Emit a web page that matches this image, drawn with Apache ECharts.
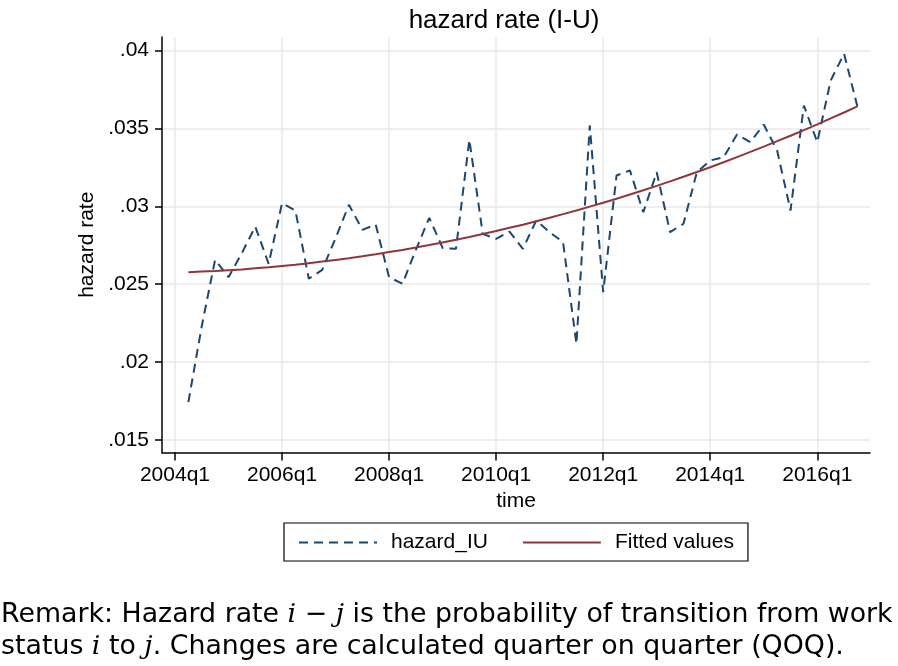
<!DOCTYPE html>
<html><head><meta charset="utf-8">
<script src="https://cdn.jsdelivr.net/npm/echarts@6/dist/echarts.min.js"></script>
<style>html,body{margin:0;padding:0;background:#fff}#c{width:898px;height:666px}</style>
</head><body><div id="c"></div>
<script>
// quarters of the observations
const quarters = [
  '2004q2','2004q3','2004q4','2005q1','2005q2','2005q3','2005q4',
  '2006q1','2006q2','2006q3','2006q4','2007q1','2007q2','2007q3','2007q4',
  '2008q1','2008q2','2008q3','2008q4','2009q1','2009q2','2009q3','2009q4',
  '2010q1','2010q2','2010q3','2010q4','2011q1','2011q2','2011q3','2011q4',
  '2012q1','2012q2','2012q3','2012q4','2013q1','2013q2','2013q3','2013q4',
  '2014q1','2014q2','2014q3','2014q4','2015q1','2015q2','2015q3','2015q4',
  '2016q1','2016q2','2016q3','2016q4'
];
const hazardIU = [
  0.01743,0.0223,0.02657,0.02545,0.0270,0.0287,0.02631,
  0.0302,0.02973,0.02535,0.02592,0.02795,0.0301,0.02849,0.02883,
  0.02545,0.02503,0.0272,0.02926,0.02733,0.02727,0.03427,0.02823,
  0.02791,0.02838,0.02727,0.02909,0.02834,0.0277,0.02117,0.03519,
  0.02449,0.03198,0.0323,0.02962,0.03219,0.02834,0.02888,0.03219,
  0.03294,0.03315,0.03461,0.03412,0.03525,0.03358,0.02973,0.03647,
  0.03412,0.03807,0.03979,0.03641
];
const fittedValues = [
  0.02577,0.02581,0.02585,0.02590,0.02595,0.02602,0.02609,
  0.02617,0.02625,0.02635,0.02645,0.02656,0.02667,0.02679,0.02692,
  0.02706,0.02720,0.02735,0.02751,0.02768,0.02785,0.02803,0.02822,
  0.02841,0.02862,0.02882,0.02904,0.02926,0.02950,0.02973,0.02998,
  0.03023,0.03049,0.03076,0.03103,0.03131,0.03160,0.03190,0.03220,
  0.03251,0.03283,0.03316,0.03349,0.03383,0.03418,0.03453,0.03489,
  0.03526,0.03564,0.03602,0.03641
];
const xTickLabels = ['2004q1','2006q1','2008q1','2010q1','2012q1','2014q1','2016q1'];
const yTickValues = [0.015,0.02,0.025,0.03,0.035,0.04];

function qIndex(s){ const y = +s.slice(0,4), q = +s.slice(5); return (y-2004)*4 + (q-1); }
const xTickValues = xTickLabels.map(qIndex);
const labelOf = {}; xTickLabels.forEach(l => { labelOf[qIndex(l)] = l; });

const FONT = 'Liberation Sans';
const chart = echarts.init(document.getElementById('c'), null, {renderer:'canvas'});
chart.setOption({
  backgroundColor:'#fff',
  animation:false,
  title:{
    text:'hazard rate (I-U)', left:499, top:3, textAlign:'center',
    textStyle:{fontFamily:FONT, fontSize:26, fontWeight:'normal', color:'#000'}
  },
  grid:{left:162, right:28, top:37, bottom:213.5, containLabel:false},
  xAxis:{
    type:'value', min:-0.97, max:51.94,
    name:'time', nameLocation:'middle', nameGap:36,
    nameTextStyle:{fontFamily:FONT, fontSize:21, color:'#000'},
    axisLine:{show:true, onZero:false, lineStyle:{color:'#000', width:1.5}},
    axisTick:{show:true, customValues:xTickValues, length:8, lineStyle:{color:'#000', width:1.5}},
    axisLabel:{customValues:xTickValues, margin:12, fontFamily:FONT, fontSize:21, color:'#000',
      formatter:v => labelOf[v] || ''},
    splitLine:{show:true, lineStyle:{color:'#e8e8e8', width:1.5}}
  },
  yAxis:{
    type:'value', min:0.014198, max:0.040867,
    name:'hazard rate', nameLocation:'middle', nameGap:64, nameRotate:90,
    nameTextStyle:{fontFamily:FONT, fontSize:21, color:'#000'},
    axisLine:{show:true, onZero:false, lineStyle:{color:'#000', width:1.5}},
    axisTick:{show:true, customValues:yTickValues, length:7, lineStyle:{color:'#000', width:1.5}},
    axisLabel:{customValues:yTickValues, margin:13, fontFamily:FONT, fontSize:21, color:'#000',
      formatter:v => String(+v.toFixed(3)).replace(/^0\./,'.')},
    splitLine:{show:true, lineStyle:{color:'#e8e8e8', width:1.5}}
  },
  legend:{
    left:284, top:523, itemWidth:78, itemHeight:14, itemGap:34,
    padding:[9,14,8,14], borderColor:'#000', borderWidth:1.2,
    itemStyle:{opacity:0},
    textStyle:{fontFamily:FONT, fontSize:21, color:'#000', padding:[0,0,0,9]},
    data:['hazard_IU','Fitted values']
  },
  series:[
    {name:'hazard_IU', type:'line', symbol:'none', showSymbol:false,
     data:quarters.map((q,i)=>[qIndex(q), hazardIU[i]]),
     lineStyle:{color:'#1a476f', width:2, type:[9,6]}, itemStyle:{color:'#1a476f'}},
    {name:'Fitted values', type:'line', symbol:'none', showSymbol:false,
     data:quarters.map((q,i)=>[qIndex(q), fittedValues[i]]),
     lineStyle:{color:'#90353b', width:2}, itemStyle:{color:'#90353b'}}
  ],
  graphic:[
    {type:'text', left:1, top:599, style:{
      text:'Remark: Hazard rate {m|i} − {m|j} is the probability of transition from work\nstatus {m|i} to {m|j}. Changes are calculated quarter on quarter (QOQ).',
      fontFamily:'DejaVu Sans', fontSize:26.8, lineHeight:32, fill:'#000',
      rich:{m:{fontFamily:'DejaVu Serif', fontStyle:'italic', fontSize:26.8, lineHeight:32}}
    }}
  ]
});
</script></body></html>
